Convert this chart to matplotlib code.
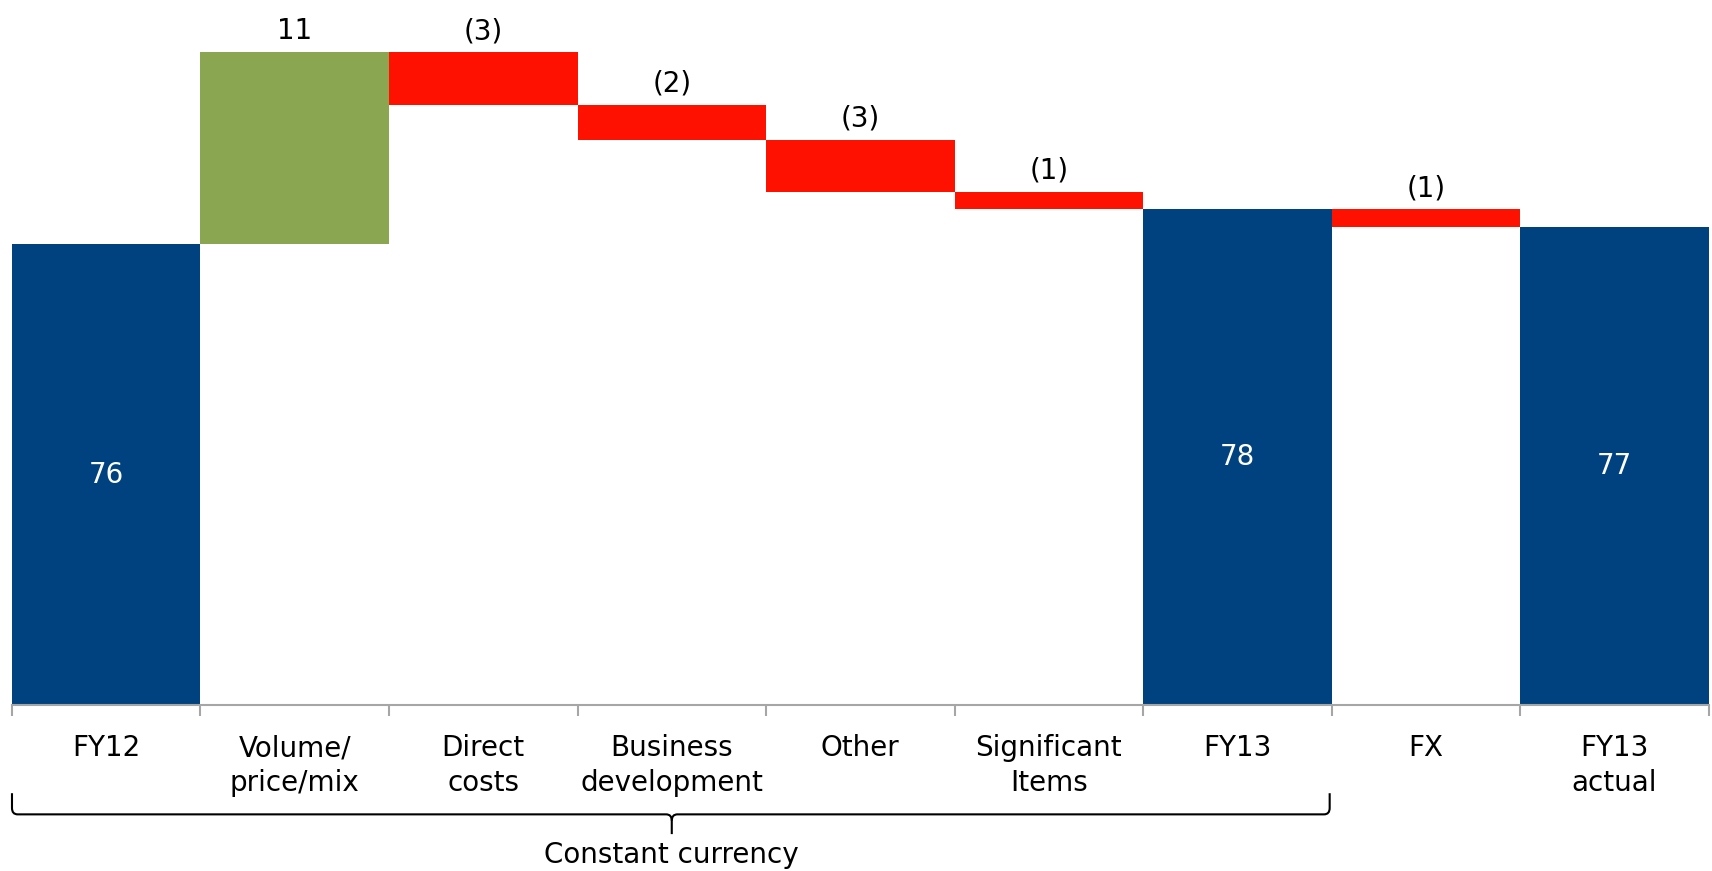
import matplotlib
matplotlib.use("Agg")
import matplotlib.pyplot as plt
from matplotlib.path import Path
from matplotlib.patches import PathPatch
import matplotlib.transforms as mtransforms

plt.rcParams['font.family'] = ['DejaVu Sans']

categories = ["FY12", "Volume/\nprice/mix", "Direct\ncosts", "Business\ndevelopment",
              "Other", "Significant\nItems", "FY13", "FX", "FY13\nactual"]
values = [76, 11, -3, -2, -3, -1, 78, -1, 77]
kinds = ["total", "delta", "delta", "delta", "delta", "delta", "total", "delta", "total"]
labels = ["76", "11", "(3)", "(2)", "(3)", "(1)", "78", "(1)", "77"]

blue = "#00427F"
green = "#8BA650"
red = "#FF1100"
y_min = 49.6

fig = plt.figure(figsize=(17.12, 8.71), dpi=100)
ax = fig.add_axes([0.007, 0.1905, 0.991, 0.8095])

running = 0
for i, (v, k, lab) in enumerate(zip(values, kinds, labels)):
    if k == "total":
        ax.bar(i, v - y_min, bottom=y_min, width=1.0, color=blue, linewidth=0)
        ax.text(i, (v + y_min) / 2, lab, ha="center", va="center",
                color="white", fontsize=20)
        running = v
    else:
        bottom = running + min(v, 0)
        ax.bar(i, abs(v), bottom=bottom, width=1.0,
               color=green if v > 0 else red, linewidth=0)
        top = bottom + abs(v)
        ax.text(i, top + 0.4, lab, ha="center", va="bottom",
                color="black", fontsize=20)
        running += v

ax.set_xlim(-0.5, 8.5)
ax.set_ylim(y_min, 90)
ax.set_yticks([])
for s in ["top", "left", "right"]:
    ax.spines[s].set_visible(False)
ax.spines["bottom"].set_color("#A6A6A6")
ax.spines["bottom"].set_linewidth(1.5)

ax.set_xticks(range(len(categories)))
ax.set_xticklabels(categories, fontsize=20, linespacing=1.3)
ax.tick_params(axis="x", which="major", length=0, pad=21)
ax.set_xticks([i - 0.5 for i in range(len(categories) + 1)], minor=True)
ax.tick_params(axis="x", which="minor", length=8, width=1.5, color="#A6A6A6")

# brace under the constant currency items
trans = mtransforms.blended_transform_factory(ax.transData, ax.transAxes)
x0, x1, xm = -0.5, 6.49, 3.0
ytop, ybr, ytip = -0.125, -0.155, -0.183
dx, dy = 0.03, 0.009
verts = [(x0, ytop), (x0, ybr + dy), (x0, ybr), (x0 + dx, ybr),
         (xm - dx, ybr), (xm, ybr), (xm, ybr - dy), (xm, ytip)]
codes = [Path.MOVETO, Path.LINETO, Path.CURVE3, Path.CURVE3,
         Path.LINETO, Path.CURVE3, Path.CURVE3, Path.LINETO]
ax.add_patch(PathPatch(Path(verts, codes), transform=trans, fill=False,
                       lw=1.5, color="black", clip_on=False))
verts = [(x1, ytop), (x1, ybr + dy), (x1, ybr), (x1 - dx, ybr),
         (xm + dx, ybr), (xm, ybr), (xm, ybr - dy)]
codes = [Path.MOVETO, Path.LINETO, Path.CURVE3, Path.CURVE3,
         Path.LINETO, Path.CURVE3, Path.CURVE3]
ax.add_patch(PathPatch(Path(verts, codes), transform=trans, fill=False,
                       lw=1.5, color="black", clip_on=False))
ax.text(xm, -0.212, "Constant currency", transform=trans, ha="center",
        va="center", fontsize=20)

fig.savefig("out.png", dpi=100)
